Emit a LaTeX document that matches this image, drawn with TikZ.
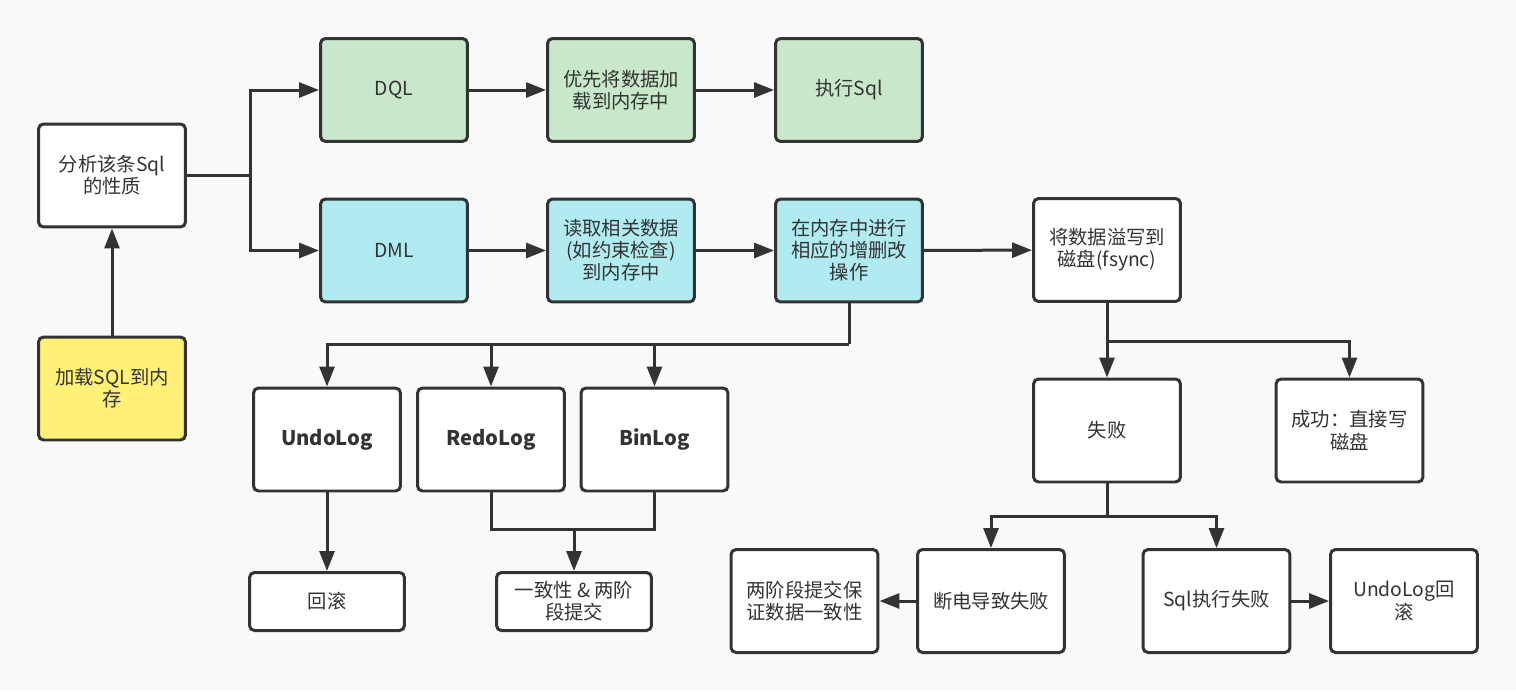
\documentclass[tikz,border=0pt]{standalone}
\usepackage{fontspec}
\setmainfont{Noto Sans CJK SC}
\usetikzlibrary{arrows.meta}
\definecolor{bgc}{HTML}{F9F9F9}
\definecolor{lnc}{HTML}{333333}
\definecolor{grc}{HTML}{C9E7CB}
\definecolor{cyc}{HTML}{B0EBF2}
\definecolor{yec}{HTML}{FFF178}
\begin{document}
\begin{tikzpicture}[x=0.02cm,y=-0.02cm,
  box/.style={draw=lnc, line width=0.06cm, rounded corners=0.1cm, fill=white, text=lnc, align=center, inner sep=0pt,
    minimum width=2.94cm, minimum height=2.06cm, font=\fontsize{11}{12.6}\selectfont},
  smallbox/.style={box, minimum width=3.1cm, minimum height=1.16cm},
  boldbox/.style={box, font=\fontsize{11.5}{13}\selectfont\bfseries},
  wire/.style={draw=lnc, line width=0.06cm},
  arr/.style={wire, -{Triangle[length=0.4cm,width=0.3cm]}}
]
\fill[bgc] (0,0) rectangle (1516,691);
\useasboundingbox (0,0) rectangle (1516,691);

\node[box] (fx) at (112,175.5) {分析该条Sql\\的性质};
\node[box, fill=yec] (load) at (112,388.5) {加载SQL到内\\存};
\node[box, fill=grc] (dql) at (394,90) {DQL};
\node[box, fill=grc] (pre) at (621,90) {优先将数据加\\载到内存中};
\node[box, fill=grc] (exe) at (849,90) {执行Sql};
\node[box, fill=cyc] (dml) at (394,250.5) {DML};
\node[box, fill=cyc] (rd) at (621,250.5) {读取相关数据\\(如约束检查)\\到内存中};
\node[box, fill=cyc] (mem) at (849,250.5) {在内存中进行\\相应的增删改\\操作};
\node[box] (fs) at (1107,250) {将数据溢写到\\磁盘(fsync)};
\node[boldbox] (undo) at (327,439.5) {UndoLog};
\node[boldbox] (redo) at (491,439.5) {RedoLog};
\node[boldbox] (bin) at (654.5,439.5) {BinLog};
\node[smallbox] (rb) at (327,601.5) {回滚};
\node[smallbox] (cons) at (574,601.5) {一致性 \& 两阶\\段提交};
\node[box] (fail) at (1107,430.5) {失败};
\node[box] (succ) at (1349.5,430.5) {成功：直接写\\磁盘};
\node[box] (two) at (804.5,601) {两阶段提交保\\证数据一致性};
\node[box] (pw) at (991,601) {断电导致失败};
\node[box] (sqlf) at (1216.5,601) {Sql执行失败};
\node[box] (urb) at (1404,601) {UndoLog回\\滚};

\coordinate (j1) at (250,175.5);
\coordinate (j2) at (849,344);
\coordinate (j3) at (1107,341);
\coordinate (j4) at (1107,516);
\coordinate (j5) at (491,529);
\coordinate (j6) at (574,529);

\draw[arr] (load) -- (fx);
\draw[wire] (fx.east) -- (j1);
\draw[arr] (j1) |- (dql.west);
\draw[arr] (j1) |- (dml.west);
\draw[arr] (dql) -- (pre);
\draw[arr] (pre) -- (exe);
\draw[arr] (dml) -- (rd);
\draw[arr] (rd) -- (mem);
\draw[arr] (mem) -- (fs);
\draw[wire] (mem.south) -- (j2);
\draw[arr] (j2) -| (undo.north);
\draw[arr] (j2) -| (redo.north);
\draw[arr] (j2) -| (bin.north);
\draw[arr] (undo) -- (rb);
\draw[wire] (redo.south) |- (j5) -| (bin.south);
\draw[arr] (j6) -- (cons.north);
\draw[wire] (fs.south) -- (j3);
\draw[arr] (j3) -- (fail.north);
\draw[arr] (j3) -| (succ.north);
\draw[wire] (fail.south) -- (j4);
\draw[arr] (j4) -| (pw.north);
\draw[arr] (j4) -| (sqlf.north);
\draw[arr] (pw) -- (two);
\draw[arr] (sqlf) -- (urb);
\end{tikzpicture}
\end{document}
